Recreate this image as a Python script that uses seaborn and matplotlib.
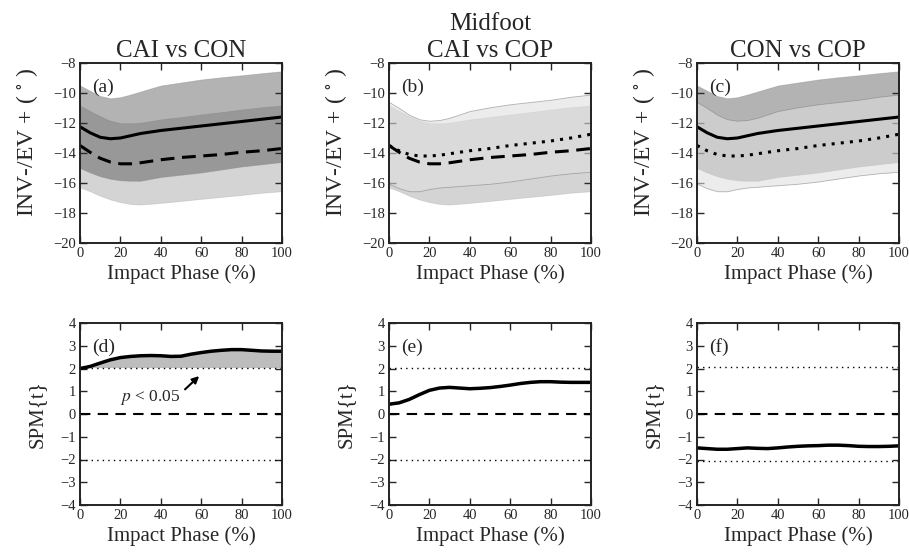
import numpy as np
import pandas as pd
import matplotlib
matplotlib.use("Agg")
import matplotlib.pyplot as plt
import seaborn as sns

# ---------------- data ----------------
phase = [0, 5, 10, 15, 20, 25, 30, 40, 50, 60, 70, 80, 90, 100]

con_mean = [-12.25, -12.65, -12.95, -13.05, -13.0, -12.85, -12.7, -12.5, -12.35, -12.2, -12.05, -11.9, -11.75, -11.6]
con_upper = [-9.5, -9.85, -10.2, -10.35, -10.28, -10.1, -9.9, -9.5, -9.3, -9.1, -8.95, -8.82, -8.68, -8.55]
con_lower = [-15.0, -15.3, -15.55, -15.72, -15.82, -15.85, -15.85, -15.6, -15.45, -15.3, -15.1, -14.9, -14.75, -14.6]

cai_mean = [-13.5, -13.95, -14.35, -14.6, -14.72, -14.72, -14.65, -14.45, -14.3, -14.2, -14.1, -13.95, -13.85, -13.7]
cai_upper = [-10.83, -11.2, -11.55, -11.85, -12.0, -12.02, -11.98, -11.76, -11.6, -11.43, -11.27, -11.1, -10.95, -10.83]
cai_lower = [-16.3, -16.55, -16.85, -17.1, -17.28, -17.4, -17.44, -17.33, -17.2, -17.06, -16.93, -16.8, -16.65, -16.55]

cop_mean = [-13.5, -13.85, -14.1, -14.2, -14.2, -14.15, -14.05, -13.85, -13.7, -13.5, -13.35, -13.2, -13.0, -12.75]
cop_upper = [-10.6, -11.0, -11.45, -11.75, -11.85, -11.8, -11.65, -11.2, -10.95, -10.75, -10.6, -10.45, -10.25, -10.1]
cop_lower = [-16.05, -16.35, -16.55, -16.55, -16.4, -16.3, -16.25, -16.15, -16.05, -15.9, -15.7, -15.5, -15.35, -15.25]

spm_phase = [0, 5, 10, 15, 20, 25, 30, 35, 40, 45, 50, 55, 60, 65, 70, 75, 80, 85, 90, 95, 100]
spm_cai_con = [2.0, 2.09, 2.24, 2.38, 2.48, 2.53, 2.56, 2.57, 2.56, 2.53, 2.54, 2.63, 2.7, 2.76, 2.8, 2.83, 2.83, 2.8, 2.77, 2.76, 2.76]
spm_cai_cop = [0.43, 0.49, 0.64, 0.85, 1.04, 1.14, 1.17, 1.14, 1.11, 1.13, 1.16, 1.21, 1.27, 1.34, 1.39, 1.42, 1.42, 1.4, 1.39, 1.39, 1.39]
spm_con_cop = [-1.49, -1.52, -1.55, -1.55, -1.52, -1.49, -1.51, -1.52, -1.49, -1.45, -1.42, -1.40, -1.39, -1.37, -1.37, -1.39, -1.42, -1.43, -1.43, -1.42, -1.40]
thresholds = [2.02, 2.04, 2.07]

titles = ["CAI vs CON", "Midfoot\nCAI vs COP", "CON vs COP"]
top_letters = ["(a)", "(b)", "(c)"]
bottom_letters = ["(d)", "(e)", "(f)"]
x_ticks = [0, 20, 40, 60, 80, 100]
top_yticks = [-20, -18, -16, -14, -12, -10, -8]
bottom_yticks = [-4, -3, -2, -1, 0, 1, 2, 3, 4]

# ---------------- style ----------------
sns.set_style("ticks", {"xtick.direction": "in", "ytick.direction": "in"})
plt.rcParams["font.family"] = ["Liberation Serif", "DejaVu Serif"]
plt.rcParams["mathtext.fontset"] = "stix"
plt.rcParams["axes.linewidth"] = 1.4
plt.rcParams["axes.edgecolor"] = "#222222"

groups = {
    "CAI": dict(mean=cai_mean, up=cai_upper, lo=cai_lower, ls=(0, (4.5, 2.5)),
                fc=(0.21, 0.21, 0.21), alpha=0.21),
    "CON": dict(mean=con_mean, up=con_upper, lo=con_lower, ls="-",
                fc=(0.20, 0.20, 0.20), alpha=0.37),
    "COP": dict(mean=cop_mean, up=cop_upper, lo=cop_lower, ls=(0, (1.0, 2.0)),
                fc=(0.875, 0.875, 0.875), alpha=0.58),
}
pairs = [("CAI", "CON"), ("CAI", "COP"), ("CON", "COP")]
spm_series = [spm_cai_con, spm_cai_cop, spm_con_cop]

fig = plt.figure(figsize=(9.09, 5.58), dpi=100)
lefts = [80 / 909, 389 / 909, 697 / 909]
width = 202 / 909

for i in range(3):
    # ---- top row: means and bands ----
    ax = fig.add_axes([lefts[i], 1 - 243 / 558, width, 180 / 558])
    g1, g2 = pairs[i]
    for g in (g1, g2):
        d = groups[g]
        ax.fill_between(phase, d["lo"], d["up"], facecolor=d["fc"], alpha=d["alpha"],
                        edgecolor=(0.5, 0.5, 0.5, 0.35), linewidth=0.6)
    for g in (g1, g2):
        d = groups[g]
        df = pd.DataFrame({"phase": phase, "angle": d["mean"]})
        sns.lineplot(data=df, x="phase", y="angle", ax=ax, color="black",
                     linewidth=2.2, linestyle=d["ls"])
    ax.set_xlim(0, 100)
    ax.set_ylim(-20, -8)
    ax.set_xticks(x_ticks)
    ax.set_yticks(top_yticks)
    ax.set_xlabel("Impact Phase (%)", fontsize=15, labelpad=3)
    ax.set_ylabel("INV-/EV + ( $^{\\circ}$ )", fontsize=17, labelpad=9)
    ax.yaxis.label.set_y(0.56)
    ax.set_title(titles[i], fontsize=18, pad=4, linespacing=1.3)
    ax.text(0.06, 0.865, top_letters[i], transform=ax.transAxes, fontsize=14,
            va="center", ha="left")
    ax.tick_params(axis="both", which="both", direction="in", top=True, right=True,
                   length=5, width=1, labelsize=10.5, pad=3)

    # ---- bottom row: SPM{t} ----
    bx = fig.add_axes([lefts[i], 1 - 505 / 558, width, 182 / 558])
    thr = thresholds[i]
    t = spm_series[i]
    tarr = np.array(t)
    bx.fill_between(spm_phase, thr, t, where=tarr >= thr, interpolate=True,
                    facecolor="#bdbdbd", edgecolor="none")
    bx.axhline(0, color="black", linestyle=(0, (5, 3.5)), linewidth=1.5)
    bx.axhline(thr, color="black", linestyle=(0, (1, 3)), linewidth=1.0)
    bx.axhline(-thr, color="black", linestyle=(0, (1, 3)), linewidth=1.0)
    dft = pd.DataFrame({"phase": spm_phase, "t": t})
    sns.lineplot(data=dft, x="phase", y="t", ax=bx, color="black", linewidth=2.5)
    bx.set_xlim(0, 100)
    bx.set_ylim(-4, 4)
    bx.set_xticks(x_ticks)
    bx.set_yticks(bottom_yticks)
    bx.set_xlabel("Impact Phase (%)", fontsize=15, labelpad=3)
    bx.set_ylabel("SPM{t}", fontsize=15, labelpad=10)
    bx.text(0.06, 0.868, bottom_letters[i], transform=bx.transAxes, fontsize=14,
            va="center", ha="left")
    bx.tick_params(axis="both", which="both", direction="in", top=True, right=True,
                   length=5, width=1, labelsize=10.5, pad=3)
    if i == 0:
        bx.annotate("", xy=(60, 1.75), xytext=(51, 1.0),
                    arrowprops=dict(arrowstyle="-|>", color="black", lw=1.5,
                                    mutation_scale=10))
        bx.text(20, 0.72, "$p$ < 0.05", fontsize=12.5, ha="left", va="center")

fig.savefig("out.png", dpi=100)
